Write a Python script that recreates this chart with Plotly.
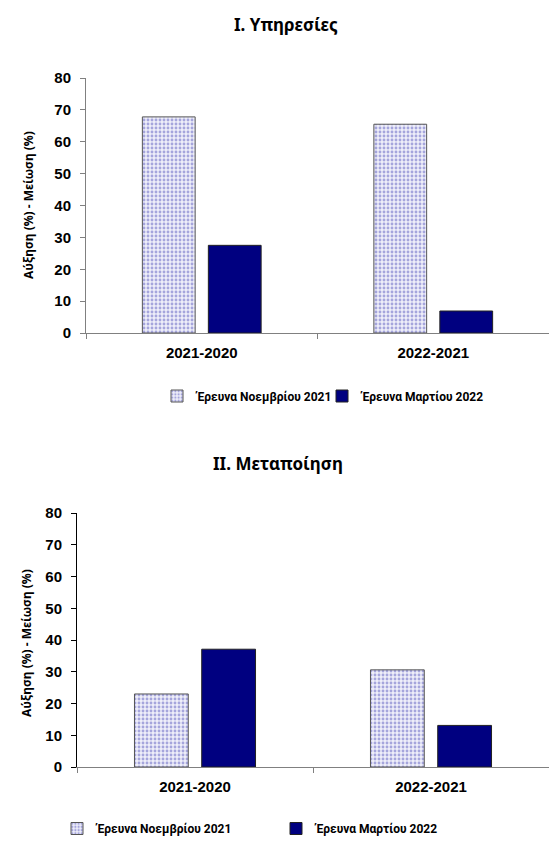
import plotly.graph_objects as go

categories = ["2021-2020", "2022-2021"]
series_names = ["Έρευνα Νοεμβρίου 2021", "Έρευνα Μαρτίου 2022"]

services_nov = [67.8, 65.5]
services_mar = [27.5, 6.9]
manuf_nov = [23.0, 30.6]
manuf_mar = [37.1, 13.1]

y_ticks = [0, 10, 20, 30, 40, 50, 60, 70, 80]

W, H = 549, 843
NAVY = "#000080"
pattern = dict(shape=".", fgcolor="#5c5cc0", bgcolor="#eeeef9", size=4, solidity=0.4)


def px_x(x):
    return x / W


def px_y(y):
    return 1 - y / H


def nov_bar(vals, xa, ya, lg):
    return go.Bar(x=categories, y=vals, name=series_names[0],
                  marker=dict(color="#eeeef9", pattern=pattern, line=dict(color="#555555", width=1)),
                  xaxis=xa, yaxis=ya, legend=lg)


def mar_bar(vals, xa, ya, lg):
    return go.Bar(x=categories, y=vals, name=series_names[1],
                  marker=dict(color=NAVY, line=dict(color="#222222", width=1)),
                  xaxis=xa, yaxis=ya, legend=lg)


fig = go.Figure()
fig.add_trace(nov_bar(services_nov, "x", "y", "legend"))
fig.add_trace(mar_bar(services_mar, "x", "y", "legend"))
fig.add_trace(nov_bar(manuf_nov, "x2", "y2", "legend2"))
fig.add_trace(mar_bar(manuf_mar, "x2", "y2", "legend2"))

tick_font = dict(family="Liberation Sans", size=15, color="#000000", weight="bold")
legend_font = dict(family="Roboto", size=12, color="#000000", weight="bold")
title_font = dict(family="Noto Sans", size=17, color="#000000", weight="bold")
ytitle_font = dict(family="Noto Sans", size=12, color="#000000", weight="bold")

xaxis_common = dict(showline=True, linecolor="#808080", linewidth=1, ticks="outside",
                    tickson="boundaries", ticklen=5, tickcolor="#808080", ticklabelstandoff=6,
                    tickfont=tick_font, showgrid=False, zeroline=False, automargin=False)
yaxis_common = dict(range=[0, 80], tickvals=y_ticks, showline=True, linecolor="#808080",
                    linewidth=1, ticks="outside", ticklen=5, tickcolor="#808080",
                    ticklabelstandoff=6, tickfont=tick_font, showgrid=False, zeroline=False,
                    automargin=False)

fig.update_layout(
    width=W, height=H,
    margin=dict(l=0, r=0, t=0, b=0, autoexpand=False),
    paper_bgcolor="white", plot_bgcolor="white",
    barmode="group", bargap=0.43, bargroupgap=0.2,
    xaxis=dict(domain=[px_x(86), 1.0], anchor="y", **xaxis_common),
    yaxis=dict(domain=[px_y(333), px_y(78)], anchor="x", **yaxis_common),
    xaxis2=dict(domain=[px_x(77), 1.0], anchor="y2", **xaxis_common),
    yaxis2=dict(domain=[px_y(767), px_y(513)], anchor="x2",
                **{**yaxis_common, "linecolor": "#000000", "tickcolor": "#000000"}),
    legend=dict(orientation="h", x=px_x(157), y=px_y(396), xanchor="left", yanchor="middle",
                font=legend_font, itemwidth=30, entrywidth=120, entrywidthmode="pixels",
                traceorder="normal", bgcolor="rgba(0,0,0,0)"),
    legend2=dict(orientation="h", x=px_x(57), y=0, xanchor="left", yanchor="bottom",
                 font=legend_font, itemwidth=30, entrywidth=174, entrywidthmode="pixels",
                 traceorder="normal", bgcolor="rgba(0,0,0,0)"),
    annotations=[
        dict(text="I. Υπηρεσίες", x=px_x(286), y=px_y(24), xref="paper", yref="paper",
             xanchor="center", yanchor="middle", showarrow=False, font=title_font),
        dict(text="II. Μεταποίηση", x=px_x(278), y=px_y(463), xref="paper", yref="paper",
             xanchor="center", yanchor="middle", showarrow=False, font=title_font),
        dict(text="Αύξηση (%) - Μείωση (%)", x=px_x(28), y=px_y(205), xref="paper", yref="paper",
             xanchor="center", yanchor="middle", textangle=-90, showarrow=False, font=ytitle_font),
        dict(text="Αύξηση (%) - Μείωση (%)", x=px_x(26), y=px_y(643), xref="paper", yref="paper",
             xanchor="center", yanchor="middle", textangle=-90, showarrow=False, font=ytitle_font),
    ],
    showlegend=True,
)

fig.write_html("out.html", config={"displayModeBar": False},
               post_script="document.body.style.margin='0';")
